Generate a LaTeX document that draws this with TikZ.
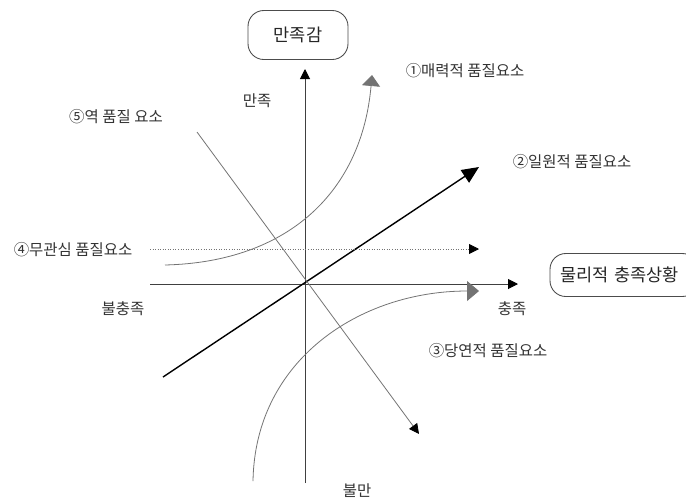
\documentclass[tikz,border=0pt]{standalone}
\usepackage{fontspec}
\setmainfont{Noto Sans CJK KR}
\usetikzlibrary{arrows.meta}
\begin{document}
\begin{tikzpicture}[x=0.02cm,y=-0.02cm,
  lbl/.style={text=black!80,font=\fontsize{8.8}{10}\selectfont,inner sep=0pt},
  rbox/.style={draw=black!70,line width=0.5pt,rounded corners=9pt,text=black!85,font=\fontsize{10}{11}\selectfont},
  axis/.style={draw=black!75,line width=0.55pt},
  thin/.style={draw=black!55,line width=0.45pt},
  ahead/.style={-{Triangle[length=10*0.02cm,width=10*0.02cm,color=black,fill=black]}},
  bighead/.style={-{Triangle[length=17*0.02cm,width=15*0.02cm]}},
  grayhead/.style={-{Triangle[length=12*0.02cm,width=20*0.02cm,color=black!55,fill=black!55]}},
  grayheadup/.style={-{Triangle[length=11*0.02cm,width=18*0.02cm,color=black!55,fill=black!55]}}]
\clip (0,0) rectangle (686,501);
\fill[white] (0,0) rectangle (686,501);
% coordinates
\coordinate (O) at (305,285);
\coordinate (vbot) at (305,483);
\coordinate (vtop) at (305,69);
\coordinate (hleft) at (150,284);
\coordinate (hright) at (518,284);
\coordinate (dstart) at (163,377);
\coordinate (dend) at (479,167);
\coordinate (nstart) at (150,249);
\coordinate (nend) at (479,249);
\coordinate (rstart) at (197,132);
\coordinate (rend) at (419,434);
\coordinate (astart) at (165,265);
\coordinate (aend) at (372,75);
\coordinate (mstart) at (253,481);
\coordinate (mend) at (479,291);
% boxes
\node[rbox,minimum width=100*0.02cm,minimum height=49*0.02cm] (sat) at (298,35) {만족감};
\node[rbox,minimum width=148*0.02cm,minimum height=43*0.02cm,text width=128*0.02cm,align=left] (phys) at (624,275) {물리적 충족상황};
% axes
\draw[axis,ahead] (vbot) -- (vtop);
\draw[axis,ahead] (hleft) -- (hright);
% one-dimensional
\draw[draw=black,line width=0.8pt,bighead] (dstart) -- (dend);
% indifferent
\draw[thin,densely dotted,ahead] (nstart) -- (nend);
% reverse
\draw[thin,ahead] (rstart) -- (rend);
% attractive
\draw[thin,grayheadup] (astart) .. controls (290,262) and (362,190) .. (aend);
% must-be
\draw[thin,grayhead] (mstart) .. controls (255,360) and (360,291) .. (mend);
% labels
\node[lbl] (l1) at (465,71) {①매력적 품질요소};
\node[lbl] (l5) at (116,117) {⑤역 품질 요소};
\node[lbl] (lsat) at (257,101) {만족};
\node[lbl] (l2) at (572,162) {②일원적 품질요소};
\node[lbl] (l4) at (73,250) {④무관심 품질요소};
\node[lbl] (lnf) at (123,309) {불충족};
\node[lbl] (lf) at (512,309) {충족};
\node[lbl] (l3) at (488,351) {③당연적 품질요소};
\node[lbl] (ldis) at (357,491) {불만};
\end{tikzpicture}
\end{document}
